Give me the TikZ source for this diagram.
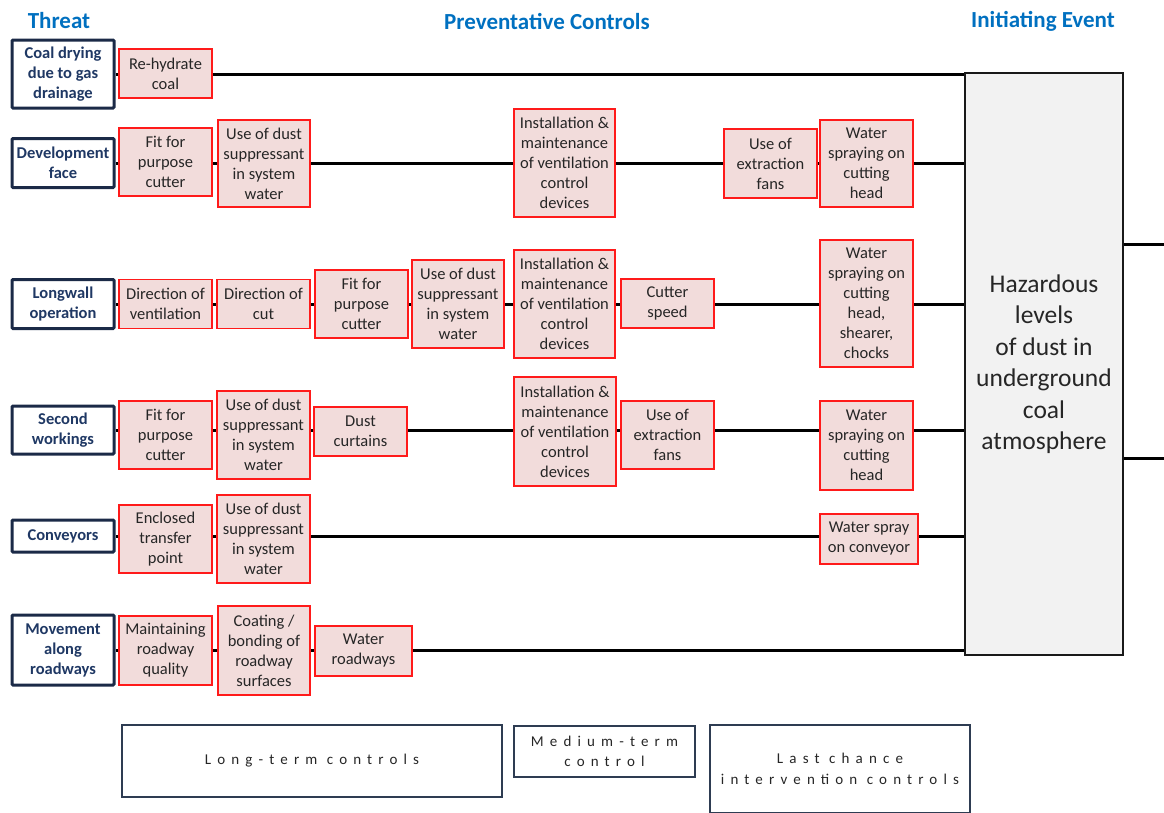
\documentclass[tikz,border=0pt]{standalone}
\usepackage{fontspec}
\setmainfont{Carlito}
\newfontfamily\spacedfont[LetterSpace=41]{Carlito}
\usetikzlibrary{backgrounds}
\definecolor{hdrblue}{HTML}{0070C0}
\definecolor{navy}{HTML}{1F3864}
\definecolor{navyline}{HTML}{1B2A47}
\definecolor{ctlfill}{HTML}{F2DCDB}
\definecolor{ctlred}{HTML}{FF1A1A}
\definecolor{hzfill}{HTML}{F2F2F2}
\definecolor{legline}{HTML}{2E3C52}
\tikzset{
  hdr/.style={font=\fontsize{23}{27}\selectfont\bfseries, text=hdrblue, anchor=center},
  threat/.style={draw=navyline, line width=3pt, fill=white, rounded corners=1pt, align=center,
    font=\fontsize{16.5}{20}\selectfont\bfseries, text=navy, inner sep=0pt},
  ctl/.style={draw=ctlred, line width=1.5pt, fill=ctlfill, align=center,
    font=\fontsize{16.5}{20}\selectfont, text=black!85, inner sep=0pt},
  hazard/.style={draw=black!90, line width=2.5pt, fill=hzfill, align=center,
    font=\fontsize{25.5}{31.5}\selectfont, text=black!85, inner sep=0pt},
  legend/.style={draw=legline, line width=1.2pt, fill=white, align=center,
    font=\fontsize{15}{20.5}\spacedfont, text=black!85, inner sep=0pt},
  conn/.style={line width=3pt, black},
}
\begin{document}
\begin{tikzpicture}[x=1pt,y=-1pt]
\useasboundingbox (0,0) rectangle (1164,812);
% headers
\node[hdr] (hThreat) at (59,21) {Threat};
\node[hdr] (hPrev) at (547,21) {Preventative Controls};
\node[hdr] (hInit) at (1043,21) {Initiating Event};
% hazard
\node[hazard, minimum width=158, minimum height=582] (hz) at (1044,364) {Hazardous\\levels\\of dust in\\underground\\coal\\atmosphere};
% threats
\node[threat, minimum width=102, minimum height=68] (t1) at (63,74) {Coal drying\\due to gas\\drainage};
\node[threat, minimum width=102, minimum height=49] (t2) at (63,163) {Development\\face};
\node[threat, minimum width=102, minimum height=49] (t3) at (63,304) {Longwall\\operation};
\node[threat, minimum width=102, minimum height=48] (t4) at (63,430) {Second\\workings};
\node[threat, minimum width=102, minimum height=32] (t5) at (63,536) {Conveyors};
\node[threat, minimum width=102, minimum height=70] (t6) at (63,650) {Movement\\along\\roadways};
% row 1
\node[ctl, minimum width=93, minimum height=49] (c11) at (165.5,73.5) {Re-hydrate\\coal};
% row 2
\node[ctl, minimum width=93, minimum height=68] (c21) at (165.5,162) {Fit for\\purpose\\cutter};
\node[ctl, minimum width=92, minimum height=87] (c22) at (264,163.5) {Use of dust\\suppressant\\in system\\water};
\node[ctl, minimum width=101, minimum height=108] (c23) at (564.5,163) {Installation \&\\maintenance\\of ventilation\\control\\devices};
\node[ctl, minimum width=93, minimum height=69] (c24) at (770.5,163.5) {Use of\\extraction\\fans};
\node[ctl, minimum width=93, minimum height=87] (c25) at (866.5,163.5) {Water\\spraying on\\cutting\\head};
% row 3
\node[ctl, minimum width=93, minimum height=49] (c31) at (165.5,304) {Direction of\\ventilation};
\node[ctl, minimum width=93, minimum height=49] (c32) at (263.5,304) {Direction of\\cut};
\node[ctl, minimum width=93, minimum height=68] (c33) at (361.5,304) {Fit for\\purpose\\cutter};
\node[ctl, minimum width=92, minimum height=88] (c34) at (458,304) {Use of dust\\suppressant\\in system\\water};
\node[ctl, minimum width=101, minimum height=108] (c35) at (564.5,304) {Installation \&\\maintenance\\of ventilation\\control\\devices};
\node[ctl, minimum width=93, minimum height=49] (c36) at (667.5,303.5) {Cutter\\speed};
\node[ctl, minimum width=93, minimum height=127] (c37) at (866.5,303.5) {Water\\spraying on\\cutting\\head,\\shearer,\\chocks};
% row 4
\node[ctl, minimum width=93, minimum height=68] (c41) at (165.5,435) {Fit for\\purpose\\cutter};
\node[ctl, minimum width=93, minimum height=88] (c42) at (263.5,435) {Use of dust\\suppressant\\in system\\water};
\node[ctl, minimum width=93, minimum height=49] (c43) at (360.5,431.5) {Dust\\curtains};
\node[ctl, minimum width=102, minimum height=109] (c44) at (565,431.5) {Installation \&\\maintenance\\of ventilation\\control\\devices};
\node[ctl, minimum width=93, minimum height=68] (c45) at (667.5,435) {Use of\\extraction\\fans};
\node[ctl, minimum width=93, minimum height=89] (c46) at (866.5,445.5) {Water\\spraying on\\cutting\\head};
% row 5
\node[ctl, minimum width=93, minimum height=68] (c51) at (165.5,539) {Enclosed\\transfer\\point};
\node[ctl, minimum width=93, minimum height=88] (c52) at (263.5,539) {Use of dust\\suppressant\\in system\\water};
\node[ctl, minimum width=98, minimum height=50] (c53) at (869,539) {Water spray\\on conveyor};
% row 6
\node[ctl, minimum width=93, minimum height=69] (c61) at (165.5,650.5) {Maintaining\\roadway\\quality};
\node[ctl, minimum width=92, minimum height=89] (c62) at (264,650.5) {Coating /\\bonding of\\roadway\\surfaces};
\node[ctl, minimum width=97, minimum height=50] (c63) at (363.5,651) {Water\\roadways};
% right side free ends
\coordinate (o1) at (1164,244);
\coordinate (o2) at (1164,458);
% connectors
\begin{scope}[on background layer]
\foreach \t in {t1,t2,t3,t4,t5,t6}{
  \draw[conn] (\t.east) -- (hz.west |- \t.east);
}
\draw[conn] (hz.east |- o1) -- (o1);
\draw[conn] (hz.east |- o2) -- (o2);
\end{scope}
% legend
\node[legend, minimum width=380, minimum height=72] (l1) at (312,761) {Long-term controls};
\node[legend, minimum width=181, minimum height=51] (l2) at (604.5,751.5) {Medium-term\\control};
\node[legend, minimum width=260, minimum height=88] (l3) at (840,769) {Last chance\\intervention controls};
\end{tikzpicture}
\end{document}
